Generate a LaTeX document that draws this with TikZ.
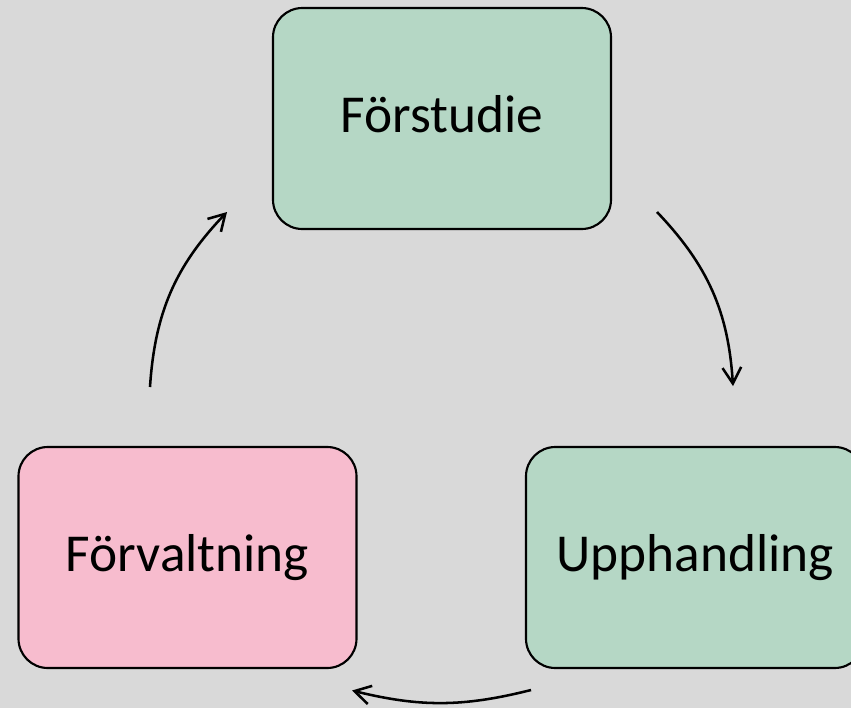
\documentclass[tikz,border=0pt]{standalone}
\usepackage{fontspec}
\setmainfont{Carlito}
\usetikzlibrary{arrows.meta}
\definecolor{bgc}{RGB}{217,217,217}
\definecolor{greenfill}{RGB}{181,215,197}
\definecolor{pinkfill}{RGB}{247,188,206}
\tikzset{
  stagebox/.style={draw=black, line width=1.6pt, rounded corners=22pt,
    minimum width=253.5pt, minimum height=165.75pt, inner sep=0pt,
    font=\fontsize{40pt}{48pt}\selectfont, text height=27pt, text depth=6pt},
  cyclearrow/.style={draw=black, line width=1.9pt,
    -{Straight Barb[length=12pt,width=14pt,line width=1.9pt]}}
}
\begin{document}
\begin{tikzpicture}[x=0.75pt,y=-0.75pt]
  \fill[bgc] (0,0) rectangle (851,708);
  \useasboundingbox (0,0) rectangle (851,708);
  \node[stagebox, fill=greenfill] (fs) at (442,118.5) {Förstudie};
  \node[stagebox, fill=pinkfill] (fv) at (187.5,557.5) {Förvaltning};
  \node[stagebox, fill=greenfill] (up) at (695,557.5) {Upphandling};
  \coordinate (a1s) at (657,212);
  \coordinate (a1e) at (733,386);
  \coordinate (a2s) at (531,690);
  \coordinate (a2e) at (352,690.5);
  \coordinate (a3s) at (150,387);
  \coordinate (a3e) at (227,212);
  \draw[cyclearrow] (a1s) to[bend left=20] (a1e);
  \draw[cyclearrow] (a2s) to[bend left=14] (a2e);
  \draw[cyclearrow] (a3s) to[bend left=20] (a3e);
\end{tikzpicture}
\end{document}
